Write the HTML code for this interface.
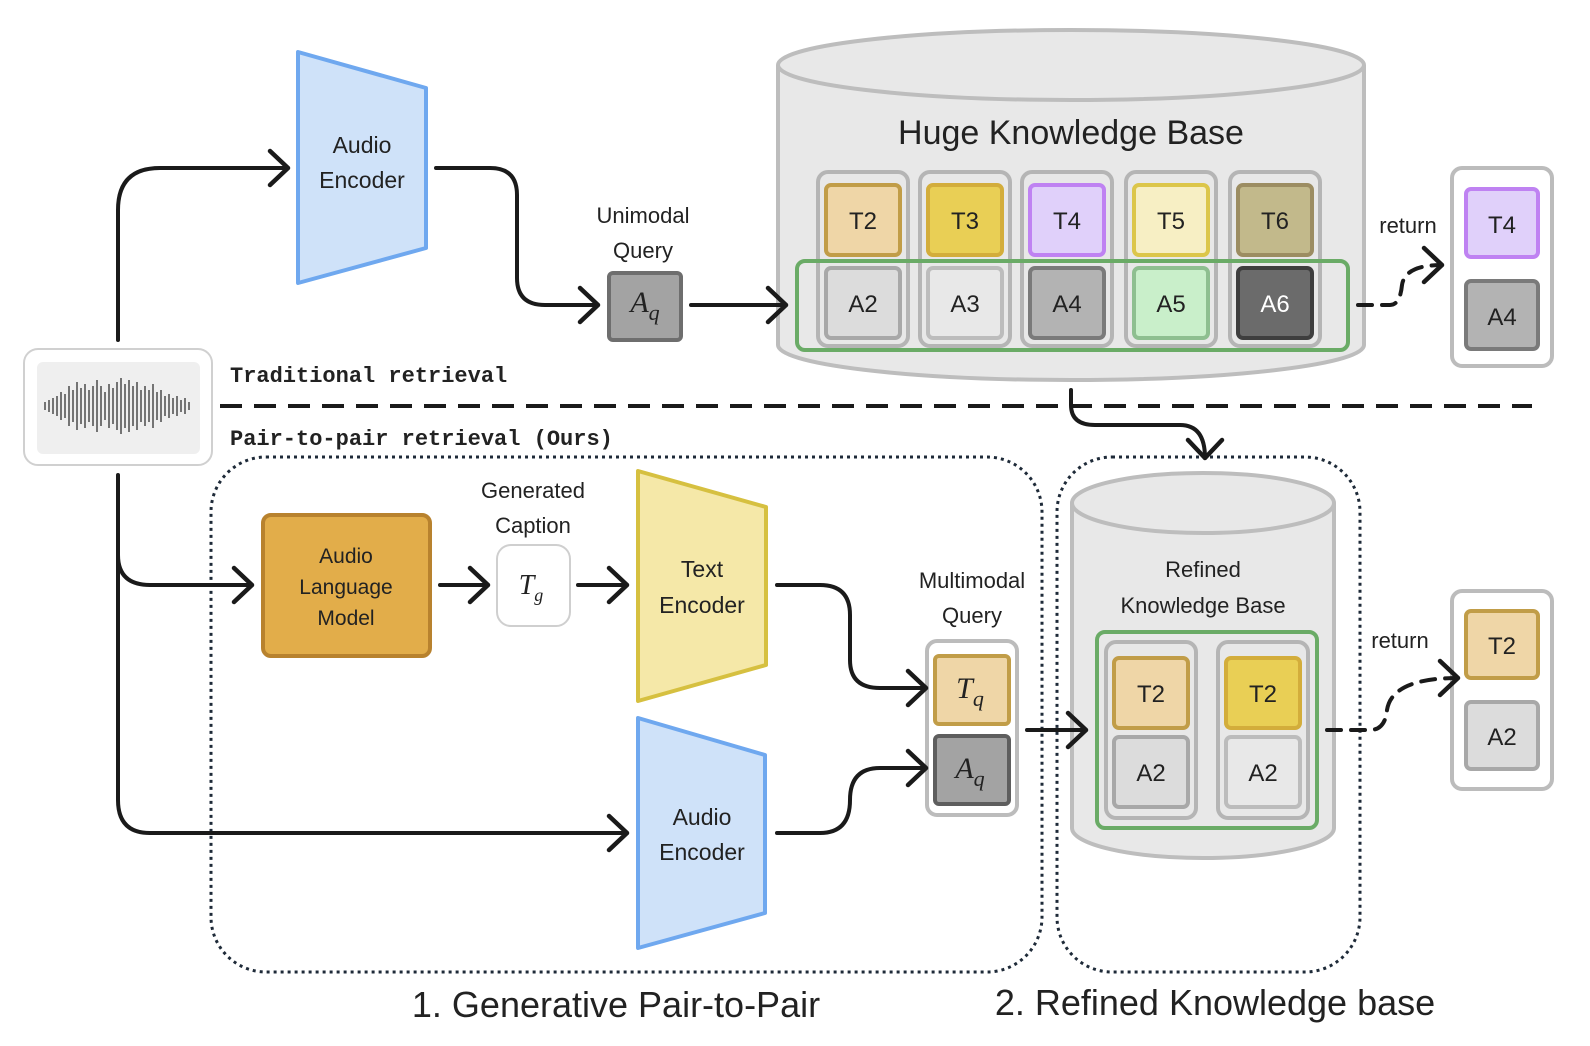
<!DOCTYPE html>
<html><head><meta charset="utf-8"><style>
html,body{margin:0;padding:0;background:#fff}
svg{display:block}
text{font-family:"Liberation Sans","DejaVu Sans",sans-serif;fill:#222}
.m{font-family:"Liberation Mono","DejaVu Sans Mono",monospace;font-weight:bold}
.it{font-family:"Liberation Serif",serif;font-style:italic}
</style></head><body>
<svg width="1590" height="1046" viewBox="0 0 1590 1046" xmlns="http://www.w3.org/2000/svg">
<defs>
<marker id="ar2" markerWidth="30" markerHeight="40" refX="26" refY="20" orient="auto" markerUnits="userSpaceOnUse">
<path d="M8,3 L26,20 L8,37" fill="none" stroke="#1a1a1a" stroke-width="4.5" stroke-linecap="round" stroke-linejoin="round"/>
</marker>
</defs>

<!-- big cylinder -->
<path d="M778,65 V345 A293,35 0 0 0 1364,345 V65" fill="#e8e8e8" stroke="#bdbdbd" stroke-width="4"/>
<ellipse cx="1071" cy="65" rx="293" ry="35" fill="#e8e8e8" stroke="#bdbdbd" stroke-width="4"/>
<text x="1071" y="144" font-size="34" text-anchor="middle">Huge Knowledge Base</text>

<g stroke-width="4">
<rect x="818" y="172" width="90" height="174" rx="10" fill="none" stroke="#b5b5b5"/>
<rect x="920" y="172" width="90" height="174" rx="10" fill="none" stroke="#b5b5b5"/>
<rect x="1022" y="172" width="90" height="174" rx="10" fill="none" stroke="#b5b5b5"/>
<rect x="1126" y="172" width="90" height="174" rx="10" fill="none" stroke="#b5b5b5"/>
<rect x="1230" y="172" width="90" height="174" rx="10" fill="none" stroke="#b5b5b5"/>
<rect x="826" y="185" width="74" height="70" rx="5" fill="#efd6a7" stroke="#c19d48"/>
<rect x="928" y="185" width="74" height="70" rx="5" fill="#e9cf55" stroke="#d3ad3b"/>
<rect x="1030" y="185" width="74" height="70" rx="5" fill="#e0d0fa" stroke="#bf82f2"/>
<rect x="1134" y="185" width="74" height="70" rx="5" fill="#f7efc4" stroke="#dcc64a"/>
<rect x="1238" y="185" width="74" height="70" rx="5" fill="#c2b98b" stroke="#9c8d62"/>
<rect x="826" y="268" width="74" height="70" rx="5" fill="#dcdcdc" stroke="#a8a8a8"/>
<rect x="928" y="268" width="74" height="70" rx="5" fill="#e8e8e8" stroke="#bcbcbc"/>
<rect x="1030" y="268" width="74" height="70" rx="5" fill="#b3b3b3" stroke="#7a7a7a"/>
<rect x="1134" y="268" width="74" height="70" rx="5" fill="#c9efca" stroke="#8ebf90"/>
<rect x="1238" y="268" width="74" height="70" rx="5" fill="#6b6b6b" stroke="#3e3e3e"/>
<rect x="797" y="261" width="551" height="89" rx="8" fill="none" stroke="#6aab66"/>
</g>
<g font-size="24" text-anchor="middle">
<text x="863" y="229">T2</text><text x="965" y="229">T3</text><text x="1067" y="229">T4</text><text x="1171" y="229">T5</text><text x="1275" y="229">T6</text>
<text x="863" y="312">A2</text><text x="965" y="312">A3</text><text x="1067" y="312">A4</text><text x="1171" y="312">A5</text><text x="1275" y="312" style="fill:#fff">A6</text>
</g>

<!-- return box top -->
<rect x="1452" y="168" width="100" height="198" rx="10" fill="#fff" stroke="#bcbcbc" stroke-width="4"/>
<rect x="1466" y="189" width="72" height="68" rx="5" fill="#e0d0fa" stroke="#bf82f2" stroke-width="4"/>
<rect x="1466" y="281" width="72" height="68" rx="5" fill="#b3b3b3" stroke="#7a7a7a" stroke-width="4"/>
<text x="1502" y="233" font-size="24" text-anchor="middle">T4</text>
<text x="1502" y="325" font-size="24" text-anchor="middle">A4</text>
<text x="1408" y="233" font-size="22" text-anchor="middle">return</text>

<!-- audio encoder top -->
<path d="M298,52 L426,88 L426,248 L298,283 Z" fill="#cfe2f9" stroke="#6fa8ef" stroke-width="4" stroke-linejoin="round"/>
<text x="362" y="153" font-size="23" text-anchor="middle">Audio</text>
<text x="362" y="188" font-size="23" text-anchor="middle">Encoder</text>

<text x="643" y="223" font-size="22" text-anchor="middle">Unimodal</text>
<text x="643" y="258" font-size="22" text-anchor="middle">Query</text>
<rect x="609" y="273" width="72" height="67" rx="4" fill="#a3a3a3" stroke="#6e6e6e" stroke-width="4"/>
<text x="645" y="312" font-size="30" text-anchor="middle" class="it">A<tspan font-size="22" dy="8">q</tspan></text>

<!-- waveform -->
<rect x="24" y="349" width="188" height="116" rx="14" fill="#fff" stroke="#d0d0d0" stroke-width="2"/>
<rect x="37" y="362" width="163" height="92" rx="6" fill="#efefef"/>
<g stroke="#555" stroke-width="1.6">
<path d="M45,402v8M49,400v12M53,398v16M57,396v20M61,392v28M65,394v24M69,386v40M73,390v32M77,382v48M81,388v36M85,384v44M89,390v32M93,386v40M97,380v52M101,386v40M105,392v28M109,384v44M113,388v36M117,382v48M121,378v56M125,384v44M129,380v52M133,386v40M137,382v48M141,390v32M145,386v40M149,390v32M153,384v44M157,392v28M161,390v32M165,396v20M169,394v24M173,398v16M177,396v20M181,400v12M185,398v16M189,402v8"/>
</g>

<text x="230" y="382" font-size="22" class="m">Traditional retrieval</text>
<text x="230" y="445" font-size="22" class="m">Pair-to-pair retrieval (Ours)</text>
<line x1="220" y1="406" x2="1532" y2="406" stroke="#1a1a1a" stroke-width="4" stroke-dasharray="22,12"/>

<!-- dotted regions -->
<rect x="211" y="457" width="831" height="515" rx="55" fill="none" stroke="#1e2a38" stroke-width="3" stroke-dasharray="3,4"/>
<rect x="1057" y="457" width="303" height="515" rx="55" fill="none" stroke="#1e2a38" stroke-width="3" stroke-dasharray="3,4"/>

<!-- ALM -->
<rect x="263" y="515" width="167" height="141" rx="8" fill="#e2ad4a" stroke="#b8822e" stroke-width="4"/>
<text x="346" y="563" font-size="21" text-anchor="middle">Audio</text>
<text x="346" y="594" font-size="21" text-anchor="middle">Language</text>
<text x="346" y="625" font-size="21" text-anchor="middle">Model</text>

<text x="533" y="498" font-size="22" text-anchor="middle">Generated</text>
<text x="533" y="533" font-size="22" text-anchor="middle">Caption</text>
<rect x="497" y="545" width="73" height="81" rx="14" fill="#fff" stroke="#cfcfcf" stroke-width="2"/>
<text x="531" y="594" font-size="28" text-anchor="middle" class="it">T<tspan font-size="18" dy="7">g</tspan></text>

<!-- text encoder -->
<path d="M638,471 L766,507 L766,665 L638,701 Z" fill="#f5e8a8" stroke="#d6c040" stroke-width="4" stroke-linejoin="round"/>
<text x="702" y="577" font-size="23" text-anchor="middle">Text</text>
<text x="702" y="613" font-size="23" text-anchor="middle">Encoder</text>
<!-- audio encoder 2 -->
<path d="M638,718 L765,755 L765,913 L638,948 Z" fill="#cfe2f9" stroke="#6fa8ef" stroke-width="4" stroke-linejoin="round"/>
<text x="702" y="825" font-size="23" text-anchor="middle">Audio</text>
<text x="702" y="860" font-size="23" text-anchor="middle">Encoder</text>

<!-- multimodal query -->
<text x="972" y="588" font-size="22" text-anchor="middle">Multimodal</text>
<text x="972" y="623" font-size="22" text-anchor="middle">Query</text>
<rect x="927" y="641" width="90" height="174" rx="10" fill="#fff" stroke="#bcbcbc" stroke-width="4"/>
<rect x="935" y="656" width="74" height="68" rx="4" fill="#efd6a7" stroke="#c19d48" stroke-width="4"/>
<rect x="935" y="736" width="74" height="68" rx="4" fill="#a3a3a3" stroke="#5e5e5e" stroke-width="4"/>
<text x="970" y="698" font-size="30" text-anchor="middle" class="it">T<tspan font-size="22" dy="8">q</tspan></text>
<text x="970" y="778" font-size="30" text-anchor="middle" class="it">A<tspan font-size="22" dy="8">q</tspan></text>

<!-- refined cylinder -->
<path d="M1072,503 V828 A131,30 0 0 0 1334,828 V503" fill="#e8e8e8" stroke="#bdbdbd" stroke-width="4"/>
<ellipse cx="1203" cy="503" rx="131" ry="30" fill="#e8e8e8" stroke="#bdbdbd" stroke-width="4"/>
<text x="1203" y="577" font-size="22" text-anchor="middle">Refined</text>
<text x="1203" y="613" font-size="22" text-anchor="middle">Knowledge Base</text>
<g stroke-width="4">
<rect x="1106" y="642" width="90" height="176" rx="10" fill="none" stroke="#b5b5b5"/>
<rect x="1218" y="642" width="90" height="176" rx="10" fill="none" stroke="#b5b5b5"/>
<rect x="1114" y="658" width="74" height="70" rx="5" fill="#efd6a7" stroke="#c19d48"/>
<rect x="1226" y="658" width="74" height="70" rx="5" fill="#e9cf55" stroke="#d3ad3b"/>
<rect x="1114" y="737" width="74" height="70" rx="5" fill="#dcdcdc" stroke="#a8a8a8"/>
<rect x="1226" y="737" width="74" height="70" rx="5" fill="#e8e8e8" stroke="#bcbcbc"/>
<rect x="1097" y="632" width="220" height="196" rx="8" fill="none" stroke="#6aab66"/>
</g>
<g font-size="24" text-anchor="middle">
<text x="1151" y="702">T2</text><text x="1263" y="702">T2</text>
<text x="1151" y="781">A2</text><text x="1263" y="781">A2</text>
</g>

<!-- return box bottom -->
<text x="1400" y="648" font-size="22" text-anchor="middle">return</text>
<rect x="1452" y="591" width="100" height="198" rx="10" fill="#fff" stroke="#bcbcbc" stroke-width="4"/>
<rect x="1466" y="611" width="72" height="67" rx="5" fill="#efd6a7" stroke="#c19d48" stroke-width="4"/>
<rect x="1466" y="702" width="72" height="67" rx="5" fill="#dcdcdc" stroke="#a8a8a8" stroke-width="4"/>
<text x="1502" y="654" font-size="24" text-anchor="middle">T2</text>
<text x="1502" y="745" font-size="24" text-anchor="middle">A2</text>

<!-- connectors (drawn last) -->
<g fill="none" stroke="#1a1a1a" stroke-width="4" stroke-linecap="round">
<path d="M118,340 V210 Q118,168 160,168 H288" marker-end="url(#ar2)"/>
<path d="M436,168 H490 Q517,168 517,195 V278 Q517,305 545,305 H598" marker-end="url(#ar2)"/>
<path d="M691,305 H786" marker-end="url(#ar2)"/>
<path d="M1358,305 H1390 Q1400,305 1402,285 Q1405,265 1442,265" stroke-dasharray="14,10" marker-end="url(#ar2)"/>
<path d="M1071,390 V405 Q1071,425 1095,425 H1180 Q1205,425 1205,458" marker-end="url(#ar2)"/>
<path d="M118,475 V555 Q118,585 150,585 H252" marker-end="url(#ar2)"/>
<path d="M118,555 V800 Q118,833 150,833 H627" marker-end="url(#ar2)"/>
<path d="M440,585 H488" marker-end="url(#ar2)"/>
<path d="M578,585 H627" marker-end="url(#ar2)"/>
<path d="M777,585 H820 Q850,585 850,615 V660 Q850,688 880,688 H926" marker-end="url(#ar2)"/>
<path d="M777,833 H820 Q850,833 850,800 Q850,768 880,768 H926" marker-end="url(#ar2)"/>
<path d="M1027,730 H1086" marker-end="url(#ar2)"/>
<path d="M1327,730 H1370 Q1385,730 1387,710 Q1392,678 1458,678" stroke-dasharray="14,10" marker-end="url(#ar2)"/>
</g>

<text x="616" y="1017" font-size="36" text-anchor="middle">1. Generative Pair-to-Pair</text>
<text x="1215" y="1015" font-size="36" text-anchor="middle">2. Refined Knowledge base</text>
</svg>
</body></html>
